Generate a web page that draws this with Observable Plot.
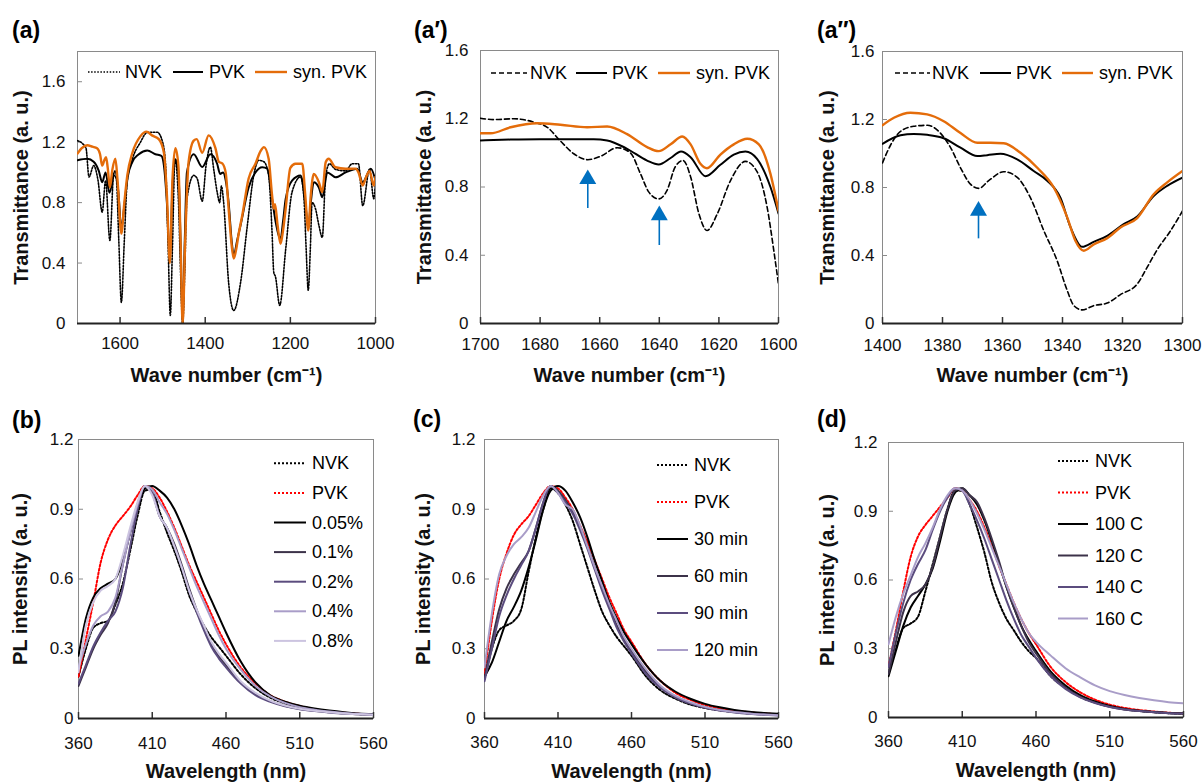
<!DOCTYPE html>
<html><head><meta charset="utf-8">
<script src="https://cdn.jsdelivr.net/npm/d3@7"></script>
<script src="https://cdn.jsdelivr.net/npm/@observablehq/plot@0.6"></script>
<style>
body{margin:0;background:#fff;}
#root{position:relative;width:1203px;height:783px;overflow:hidden;font-family:"Liberation Sans",Arial,sans-serif;background:#fff;}
</style></head><body><div id="root"></div>
<script>
// ---------- FTIR data (wave number, transmittance) ----------
const ftirA_NVK = [[1700,1.21],[1688,1.19],[1680,1.16],[1673,0.97],[1662,1.045],[1652,0.95],[1642,0.737],[1634,0.946],[1624,0.55],[1615,0.98],[1609,0.96],[1603,0.55],[1597,0.14],[1590,0.55],[1583,0.95],[1571,1.09],[1552,1.2],[1536,1.265],[1513,1.266],[1500,1.2],[1493,1.045],[1487,0.5],[1482,0.053],[1477,0.5],[1471,1.09],[1463,0.82],[1458,0.35],[1453,0.0],[1448,0.35],[1443,0.82],[1427,0.98],[1419,0.96],[1407,0.81],[1398,1.045],[1388,1.167],[1380,1.02],[1372,0.87],[1366,0.80],[1362,0.91],[1357,0.81],[1345,0.27],[1333,0.086],[1317,0.27],[1301,0.65],[1286,0.98],[1274,1.08],[1262,1.07],[1251,0.98],[1243,0.604],[1239,0.34],[1235,0.31],[1225,0.12],[1211,0.49],[1196,0.87],[1176,0.97],[1168,0.825],[1163,0.5],[1158,0.22],[1153,0.5],[1149,0.80],[1141,0.76],[1133,0.65],[1125,0.57],[1117,0.98],[1108,1.057],[1094,1.02],[1070,1.01],[1055,1.057],[1040,1.057],[1030,0.78],[1014,1.02],[1004,0.825],[1000,0.94]];
const ftirA_PVK = [[1700,1.08],[1677,1.09],[1662,1.07],[1650,1.01],[1642,0.935],[1634,1.0],[1625,0.865],[1612,1.01],[1604,0.87],[1597,0.63],[1590,0.78],[1582,0.97],[1571,1.07],[1556,1.12],[1536,1.145],[1517,1.12],[1503,1.11],[1497,1.045],[1490,0.80],[1483,0.42],[1477,0.90],[1470,1.085],[1463,1.0],[1458,0.55],[1453,0.0],[1448,0.55],[1443,1.0],[1427,1.12],[1407,1.035],[1388,1.12],[1372,1.057],[1365,0.99],[1358,1.0],[1352,0.95],[1345,0.80],[1338,0.55],[1333,0.45],[1325,0.55],[1317,0.65],[1298,0.90],[1282,1.0],[1266,1.034],[1254,1.024],[1243,0.825],[1235,0.68],[1227,0.58],[1223,0.56],[1217,0.68],[1211,0.825],[1196,0.946],[1176,0.98],[1165,0.80],[1158,0.63],[1152,0.80],[1145,0.935],[1133,0.90],[1125,0.835],[1113,1.0],[1094,0.968],[1070,1.0],[1043,1.024],[1030,0.935],[1011,1.024],[1000,0.946]];
const ftirA_SYN = [[1700,1.125],[1690,1.16],[1677,1.18],[1665,1.17],[1654,1.16],[1647,1.12],[1642,1.045],[1637,1.08],[1633,1.10],[1629,1.03],[1624,0.90],[1618,1.02],[1611,1.09],[1606,0.95],[1597,0.595],[1590,0.80],[1583,0.98],[1571,1.13],[1552,1.24],[1538,1.27],[1525,1.245],[1509,1.22],[1497,1.13],[1490,0.85],[1483,0.40],[1477,0.95],[1470,1.16],[1463,1.045],[1458,0.55],[1453,0.0],[1447,0.55],[1439,1.07],[1427,1.21],[1420,1.22],[1407,1.13],[1392,1.245],[1376,1.16],[1368,1.07],[1360,1.06],[1352,1.00],[1345,0.76],[1338,0.52],[1333,0.43],[1328,0.48],[1321,0.60],[1313,0.715],[1298,0.96],[1282,1.057],[1270,1.14],[1262,1.167],[1251,1.09],[1243,0.85],[1239,0.76],[1236,0.79],[1230,0.65],[1223,0.527],[1217,0.62],[1211,0.76],[1200,1.03],[1188,1.057],[1172,1.057],[1165,0.85],[1158,0.615],[1152,0.85],[1145,0.99],[1133,0.935],[1125,0.87],[1117,1.067],[1110,1.09],[1094,1.034],[1070,1.024],[1047,1.025],[1040,1.0],[1030,0.913],[1022,0.97],[1014,1.01],[1004,0.913],[1000,0.97]];

const ftirA1_NVK = [[1700,1.203],[1695.5,1.195],[1688.8,1.20],[1682.1,1.18],[1677.6,1.15],[1673.2,1.07],[1668.7,0.995],[1664,0.96],[1659.7,0.98],[1654.1,1.03],[1649.7,1.0],[1646.3,0.877],[1643.5,0.77],[1640.2,0.73],[1637.4,0.78],[1634.6,0.92],[1632,0.955],[1629.5,0.86],[1626.7,0.643],[1624,0.545],[1620.6,0.64],[1616.1,0.838],[1611.1,0.95],[1607.2,0.89],[1603.8,0.68],[1601.6,0.43],[1600,0.23]];
const ftirA1_PVK = [[1700,1.073],[1690,1.078],[1680,1.08],[1670,1.08],[1662,1.08],[1657.5,1.073],[1650.8,1.024],[1644.1,0.955],[1640.2,0.932],[1636.2,0.97],[1632.7,1.008],[1629.5,0.975],[1624.5,0.863],[1619.5,0.93],[1615,0.99],[1611.1,1.008],[1607.2,0.965],[1602.7,0.80],[1600,0.645]];
const ftirA1_SYN = [[1700,1.115],[1696.6,1.115],[1689.9,1.15],[1681,1.174],[1673.2,1.165],[1664.2,1.15],[1657.5,1.155],[1650.8,1.11],[1644.1,1.034],[1640.2,1.01],[1636.2,1.05],[1632.3,1.096],[1629.5,1.05],[1626.2,0.936],[1624,0.91],[1619.5,0.99],[1615,1.05],[1610.5,1.083],[1606.6,1.05],[1602.7,0.877],[1600,0.66]];

const ftirA2_NVK = [[1400,0.945],[1397.3,1.05],[1394,1.13],[1389.6,1.16],[1385.1,1.166],[1380.7,1.12],[1377.3,1.034],[1374,0.916],[1370.7,0.82],[1367.9,0.795],[1364.6,0.84],[1359.6,0.893],[1355.1,0.86],[1350.7,0.74],[1346.2,0.545],[1341.8,0.37],[1338.4,0.193],[1336.2,0.105],[1333.4,0.08],[1329.6,0.105],[1325.1,0.12],[1320.7,0.17],[1315.1,0.232],[1311.8,0.33],[1308.4,0.435],[1304,0.545],[1300,0.662]];
const ftirA2_PVK = [[1400,1.057],[1394,1.107],[1389.6,1.115],[1385.1,1.11],[1379.6,1.09],[1374,1.034],[1368.4,0.985],[1365.1,0.99],[1360.7,0.998],[1355.1,0.965],[1349.6,0.897],[1345.1,0.84],[1340.7,0.74],[1337.3,0.565],[1333.4,0.451],[1329.6,0.48],[1325.1,0.516],[1319.6,0.585],[1315.1,0.63],[1309.6,0.75],[1305.1,0.81],[1300,0.858]];
const ftirA2_SYN = [[1400,1.166],[1396.2,1.21],[1390.7,1.24],[1385.1,1.23],[1379.6,1.19],[1374,1.12],[1368.4,1.063],[1364,1.063],[1359.6,1.06],[1354,1.004],[1348.4,0.916],[1342.9,0.80],[1338.4,0.623],[1335.7,0.487],[1332.9,0.428],[1329.6,0.465],[1325.1,0.502],[1320.7,0.565],[1315.1,0.62],[1309.6,0.76],[1305.1,0.83],[1300,0.897]];

// arrows: wave number, tail value, tip value
const arrowsA1_x = [1664, 1640], arrowsA1_tail = [0.674, 0.457], arrowsA1_tip = [0.903, 0.692];
const arrowsA2_x = [1368], arrowsA2_tail = [0.498], arrowsA2_tip = [0.721];

// ---------- PL data ----------
const plX = [360,365,370,375,380,385,390,395,400,405,410,415,420,425,430,435,440,445,450,455,460,470,480,490,500,510,520,530,540,550,560];
const plB_NVK = [.18,.30,.39,.41,.42,.49,.58,.72,.87,.98,.985,.89,.80,.72,.63,.53,.46,.40,.35,.31,.27,.19,.13,.09,.065,.048,.037,.029,.024,.019,.016];
const plB_PVK = [.18,.34,.50,.67,.77,.83,.87,.91,.96,1.0,.99,.95,.89,.82,.74,.66,.59,.52,.45,.38,.32,.22,.15,.10,.072,.053,.04,.031,.025,.02,.017];
const plB_005 = [.27,.43,.52,.56,.58,.60,.68,.80,.92,.99,1.0,.98,.95,.90,.83,.75,.66,.58,.51,.44,.37,.245,.155,.10,.072,.055,.043,.034,.027,.022,.019];
const plB_01  = [.14,.22,.30,.36,.41,.50,.66,.80,.92,1.0,.97,.87,.82,.75,.66,.56,.47,.39,.32,.27,.23,.155,.105,.075,.055,.042,.033,.027,.022,.018,.016];
const plB_02  = [.15,.23,.31,.37,.42,.46,.56,.74,.90,1.0,.97,.87,.82,.74,.65,.55,.46,.38,.31,.26,.22,.15,.10,.072,.053,.04,.032,.026,.021,.018,.015];
const plB_04  = [.22,.32,.40,.44,.46,.52,.66,.80,.92,1.0,.985,.93,.88,.81,.73,.65,.57,.50,.43,.36,.30,.21,.14,.095,.067,.049,.038,.030,.024,.02,.017];
const plB_08  = [.20,.40,.50,.55,.57,.60,.70,.82,.93,1.0,.96,.87,.82,.74,.65,.55,.47,.40,.33,.28,.24,.16,.11,.077,.056,.042,.033,.027,.022,.018,.016];

const plC_NVK = [.17,.30,.38,.40,.42,.47,.63,.78,.90,.99,.97,.92,.85,.75,.65,.55,.46,.40,.35,.31,.27,.18,.12,.085,.06,.045,.035,.028,.022,.018,.015];
const plC_PVK = [.19,.42,.60,.71,.79,.835,.87,.92,.97,1.0,.99,.95,.90,.83,.76,.68,.60,.52,.45,.38,.33,.23,.16,.11,.08,.058,.044,.034,.027,.022,.018];
const plC_30  = [.18,.24,.33,.42,.48,.55,.65,.77,.90,.98,1.0,.98,.93,.866,.78,.68,.59,.50,.43,.37,.32,.23,.16,.115,.085,.063,.048,.037,.029,.024,.02];
const plC_60  = [.17,.33,.47,.56,.62,.67,.72,.82,.93,1.0,.98,.94,.89,.82,.74,.65,.56,.48,.40,.34,.29,.20,.135,.093,.066,.048,.036,.028,.022,.018,.015];
const plC_90  = [.16,.30,.44,.53,.60,.66,.72,.82,.93,1.0,.97,.93,.88,.81,.73,.64,.55,.47,.39,.33,.28,.19,.13,.09,.064,.046,.034,.026,.02,.016,.013];
const plC_120 = [.22,.45,.62,.70,.75,.78,.82,.89,.96,1.0,.97,.92,.90,.83,.74,.65,.57,.49,.42,.35,.30,.21,.14,.097,.07,.05,.037,.028,.022,.017,.014];

const plD_NVK = [.19,.30,.39,.41,.44,.55,.67,.79,.91,.99,.99,.93,.83,.72,.59,.50,.43,.38,.33,.29,.26,.18,.13,.09,.065,.048,.036,.029,.023,.019,.016];
const plD_PVK = [.22,.38,.55,.70,.79,.84,.88,.92,.96,1.0,.99,.95,.90,.83,.75,.66,.58,.50,.43,.37,.32,.22,.155,.11,.078,.056,.042,.033,.026,.021,.018];
const plD_100 = [.18,.29,.40,.48,.53,.58,.65,.77,.90,.98,1.0,.97,.93,.86,.77,.67,.57,.48,.40,.34,.29,.20,.14,.098,.07,.05,.037,.029,.024,.02,.018];
const plD_120 = [.19,.33,.46,.53,.55,.58,.66,.79,.91,.99,1.0,.97,.94,.87,.78,.68,.57,.48,.40,.33,.28,.19,.13,.09,.065,.047,.035,.028,.023,.019,.017];
const plD_140 = [.22,.37,.50,.60,.67,.73,.82,.90,.96,1.0,.99,.93,.86,.78,.69,.60,.51,.43,.36,.31,.26,.18,.125,.088,.063,.046,.035,.028,.023,.019,.017];
const plD_160 = [.32,.44,.54,.62,.70,.76,.83,.91,.97,1.0,.99,.95,.89,.82,.74,.66,.58,.50,.43,.37,.33,.27,.215,.175,.14,.115,.098,.085,.075,.067,.062];

const ftirTicksA = [1600,1400,1200,1000];
const ftirTicksA1 = [1700,1680,1660,1640,1620,1600];
const ftirTicksA2 = [1400,1380,1360,1340,1320,1300];
const ftirYTicksA = [0,0.4,0.8,1.2,1.6];
const plXTicks = [360,410,460,510,560];
const plYTicks = [0,0.3,0.6,0.9,1.2];

// ---------- styles ----------
const ORANGE = "#e46c0a", BLUE = "#0070c0", RED = "#ff0000";
const P1 = "#3c3249", P2 = "#5b4c7e", P3 = "#a99dc8", P4 = "#ccc4e0";
const sNVKdot = {color:"#000", width:1.6, dash:"1.5,1.6"};
const sNVKdash = {color:"#000", width:1.6, dash:"5,3"};
const sPVK = {color:"#000", width:2};
const sSYN = {color:ORANGE, width:2.4};
const plDot = c => ({color:c, width:2, dash:"2,2"});
const plSol = c => ({color:c, width:2});

const root = document.getElementById("root");
const FONT = "Liberation Sans, Arial, sans-serif";

function pairs(xs, ys){ return xs.map((x,i)=>[x, ys[i]]); }

function makePanel(cfg){
  const {cell, frame, xDomain, yDomain, xTicks, yTicks, lines, xTitle, yTitle, xPad, yPad, xTitleOff, yTitleOff, extra=[]} = cfg;
  const [cl, ct, cw, ch] = cell;
  const [fl, ft, fr, fb] = frame;
  const fw = fr - fl, fh = fb - ft;
  const xTickLen = (yDomain[1]-yDomain[0]) * 6 / fh;
  const yTickLen = (xDomain[1]-xDomain[0]) * 5 / fw;
  const fmt = d => d === 0 ? "0" : d.toFixed(1);
  const marks = [
    Plot.frame({stroke:"#8a8a8a"}),
    Plot.ruleY(yTicks.filter(t => t > yDomain[0] && t < yDomain[1]), {y: d=>d, x1: () => xDomain[0], x2: () => xDomain[0] + yTickLen, stroke:"#8a8a8a"}),
    Plot.ruleX(xTicks, {x: d=>d, y1: () => yDomain[0], y2: () => yDomain[0] + xTickLen, stroke:"#333", strokeWidth:1.5}),
    ...lines.map(s => Plot.line(s.data, {x: d=>d[0], y: d=>d[1], stroke: s.style.color, strokeWidth: s.style.width, strokeDasharray: s.style.dash, curve: "monotone-x", clip: true})),
    ...extra.map(f => f(fh)),
    Plot.ruleY([yDomain[0]], {stroke:"#222", strokeWidth:2}),
    Plot.axisX(xTicks, {tickSize:0, tickPadding:xPad, fontSize:17, label:null, tickFormat: d=>String(d)}),
    Plot.axisY(yTicks, {tickSize:0, tickPadding:yPad, fontSize:17, label:null, tickFormat: fmt}),
    Plot.text([xTitle], {text: d=>d, frameAnchor:"bottom", dy:xTitleOff, fontSize:20, fontWeight:"bold", lineAnchor:"middle", textAnchor:"middle"}),
    Plot.text([yTitle], {text: d=>d, frameAnchor:"left", dx:-yTitleOff, rotate:-90, fontSize:20, fontWeight:"bold", lineAnchor:"middle", textAnchor:"middle"})
  ];
  const svg = Plot.plot({
    width: cw, height: ch,
    marginLeft: fl-cl, marginRight: cl+cw-fr, marginTop: ft-ct, marginBottom: ct+ch-fb,
    x: {domain: xDomain}, y: {domain: yDomain},
    style: {fontFamily: FONT, fontSize: "17px", background: "transparent", color:"#111"},
    marks
  });
  svg.style.position = "absolute";
  svg.style.left = cl + "px";
  svg.style.top = ct + "px";
  root.appendChild(svg);
}

function arrowMarks(xs, tails, tips, yspan){
  return fh => {
    const pxu = yspan / fh; // data units per pixel
    const idx = xs.map((_, i) => i);
    return Plot.marks(
      Plot.ruleX(idx, {x: i => xs[i], y1: i => tails[i], y2: i => tips[i] - 13*pxu, stroke: BLUE, strokeWidth: 1.6}),
      Plot.dot(idx, {x: i => xs[i], y: i => tips[i] - 9.8*pxu, symbol: "triangle", r: 6.3, fill: BLUE, stroke: "none"})
    );
  };
}

const FTIR_X = "Wave number (cm\u207B\u00B9)";
const FTIR_Y = "Transmittance (a. u.)";
const PL_X = "Wavelength (nm)";
const PL_Y = "PL intensity (a. u.)";

makePanel({cell:[0,0,400,390], frame:[77,51,375,323], xDomain:[1700,1000], yDomain:[0,1.8], xTicks:ftirTicksA, yTicks:ftirYTicksA,
  lines:[{data:ftirA_NVK, style:sNVKdot},{data:ftirA_PVK, style:sPVK},{data:ftirA_SYN, style:sSYN}],
  xTitle:FTIR_X, yTitle:FTIR_Y, xPad:13, yPad:12, xTitleOff:52, yTitleOff:56});

makePanel({cell:[400,0,400,390], frame:[480,50,778,323], xDomain:[1700,1600], yDomain:[0,1.6], xTicks:ftirTicksA1, yTicks:ftirYTicksA,
  lines:[{data:ftirA1_NVK, style:sNVKdash},{data:ftirA1_PVK, style:sPVK},{data:ftirA1_SYN, style:sSYN}],
  extra:[arrowMarks(arrowsA1_x, arrowsA1_tail, arrowsA1_tip, 1.6)],
  xTitle:FTIR_X, yTitle:FTIR_Y, xPad:14, yPad:12, xTitleOff:52, yTitleOff:56});

makePanel({cell:[800,0,403,390], frame:[882,51,1182,323], xDomain:[1400,1300], yDomain:[0,1.6], xTicks:ftirTicksA2, yTicks:ftirYTicksA,
  lines:[{data:ftirA2_NVK, style:sNVKdash},{data:ftirA2_PVK, style:sPVK},{data:ftirA2_SYN, style:sSYN}],
  extra:[arrowMarks(arrowsA2_x, arrowsA2_tail, arrowsA2_tip, 1.6)],
  xTitle:FTIR_X, yTitle:FTIR_Y, xPad:15, yPad:8, xTitleOff:52, yTitleOff:55});

makePanel({cell:[0,390,400,393], frame:[78,439,373,718], xDomain:[360,560], yDomain:[0,1.2], xTicks:plXTicks, yTicks:plYTicks,
  lines:[{data:pairs(plX,plB_NVK), style:plDot("#000")},{data:pairs(plX,plB_PVK), style:plDot(RED)},
         {data:pairs(plX,plB_005), style:plSol("#000")},{data:pairs(plX,plB_01), style:plSol(P1)},{data:pairs(plX,plB_02), style:plSol(P2)},
         {data:pairs(plX,plB_04), style:plSol(P3)},{data:pairs(plX,plB_08), style:plSol(P4)}],
  xTitle:PL_X, yTitle:PL_Y, xPad:18, yPad:5, xTitleOff:53, yTitleOff:58});

makePanel({cell:[400,390,400,393], frame:[484,439,778,718], xDomain:[360,560], yDomain:[0,1.2], xTicks:plXTicks, yTicks:plYTicks,
  lines:[{data:pairs(plX,plC_NVK), style:plDot("#000")},{data:pairs(plX,plC_PVK), style:plDot(RED)},
         {data:pairs(plX,plC_30), style:plSol("#000")},{data:pairs(plX,plC_60), style:plSol(P1)},{data:pairs(plX,plC_90), style:plSol(P2)},
         {data:pairs(plX,plC_120), style:plSol(P3)}],
  xTitle:PL_X, yTitle:PL_Y, xPad:17, yPad:9, xTitleOff:53, yTitleOff:61});

makePanel({cell:[800,390,403,393], frame:[888,442,1183,717], xDomain:[360,560], yDomain:[0,1.2], xTicks:plXTicks, yTicks:plYTicks,
  lines:[{data:pairs(plX,plD_NVK), style:plDot("#000")},{data:pairs(plX,plD_PVK), style:plDot(RED)},
         {data:pairs(plX,plD_100), style:plSol("#000")},{data:pairs(plX,plD_120), style:plSol(P1)},{data:pairs(plX,plD_140), style:plSol(P2)},
         {data:pairs(plX,plD_160), style:plSol(P3)}],
  xTitle:PL_X, yTitle:PL_Y, xPad:17, yPad:11, xTitleOff:53, yTitleOff:61});

// ---------- overlay: panel labels and legends ----------
const ov = d3.create("svg").attr("width",1203).attr("height",783)
  .style("position","absolute").style("left","0px").style("top","0px")
  .style("font-family", FONT);
root.appendChild(ov.node());

const panelLabels = [["(a)",12,38],["(a\u2032)",414,38],["(a\u2033)",817,38],["(b)",12,428],["(c)",413,427],["(d)",817,427]];
panelLabels.forEach(([t,x,y]) => ov.append("text").attr("x",x).attr("y",y).attr("font-size",23).attr("font-weight","bold").text(t));

function legItem(x1, x2, tx, y, label, st){
  ov.append("line").attr("x1",x1).attr("x2",x2).attr("y1",y).attr("y2",y)
    .attr("stroke",st.color).attr("stroke-width",st.width).attr("stroke-dasharray",st.dash||null);
  ov.append("text").attr("x",tx).attr("y",y).attr("font-size",18).attr("dominant-baseline","central").text(label);
}
const ftirNames = ["NVK","PVK","syn. PVK"];
[[72,[[88,120,125],[173,203,209],[255,287,293]], sNVKdot],
 [73,[[491,527,530],[576,607,612],[658,690,696]], sNVKdash],
 [73,[[895,930,932],[980,1011,1016],[1062,1093,1099]], sNVKdash]].forEach(([y, pos, nst]) => {
  const sts = [nst, sPVK, sSYN];
  pos.forEach((p,i) => legItem(p[0], p[1], p[2], y, ftirNames[i], sts[i]));
});

const legB = [["NVK",plDot("#000")],["PVK",plDot(RED)],["0.05%",plSol("#000")],["0.1%",plSol(P1)],["0.2%",plSol(P2)],["0.4%",plSol(P3)],["0.8%",plSol(P4)]];
const legC = [["NVK",plDot("#000")],["PVK",plDot(RED)],["30 min",plSol("#000")],["60 min",plSol(P1)],["90 min",plSol(P2)],["120 min",plSol(P3)]];
const legD = [["NVK",plDot("#000")],["PVK",plDot(RED)],["100 C",plSol("#000")],["120 C",plSol(P1)],["140 C",plSol(P2)],["160 C",plSol(P3)]];
[[legB,274,306,312,463.3,29.6],[legC,657,688,694,465,37],[legD,1058,1088,1095,461,31.5]].forEach(([items,x1,x2,tx,y0,dy]) => {
  items.forEach(([lab, st], i) => legItem(x1, x2, tx, y0 + i*dy, lab, st));
});
</script></body></html>
